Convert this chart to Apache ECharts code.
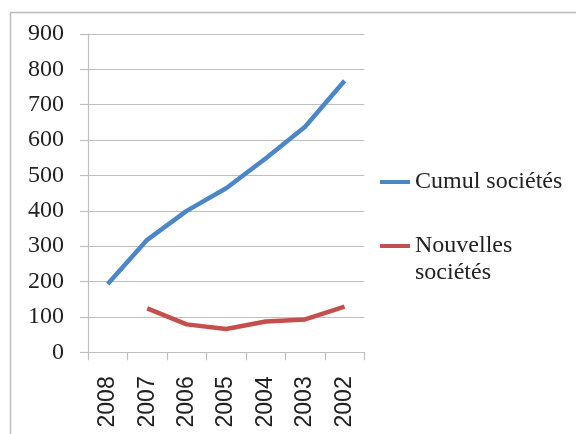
<!DOCTYPE html>
<html>
<head>
<meta charset="utf-8">
<script src="https://cdn.jsdelivr.net/npm/echarts@6/dist/echarts.min.js"></script>
<style>html,body{margin:0;padding:0;background:#fff}#c{width:576px;height:434px}</style>
</head>
<body>
<div id="c"></div>
<script>
const categories = ['2008', '2007', '2006', '2005', '2004', '2003', '2002'];
const cumulSocietes = [193, 318, 400, 464, 548, 638, 768];
const nouvellesSocietes = [null, 124, 79, 66, 87, 93, 129];
const yTicks = { min: 0, max: 900, interval: 100 };

const chart = echarts.init(document.getElementById('c'), null, { renderer: 'canvas' });
const serif = '"Liberation Serif", "Times New Roman", serif';
const sans = '"Liberation Sans", Arial, sans-serif';
chart.setOption({
  animation: false,
  backgroundColor: '#fff',
  graphic: [{
    type: 'rect', z: -1,
    shape: { x: 10.5, y: 12.5, width: 700, height: 600 },
    style: { fill: 'none', stroke: '#bdbdbd', lineWidth: 1.5 }
  }],
  grid: { left: 88, right: 211.7, top: 34, bottom: 81.7 },
  xAxis: {
    type: 'category',
    data: categories,
    boundaryGap: true,
    axisLine: { lineStyle: { color: '#bfbfbf', width: 1.2 } },
    axisTick: { show: true, length: 8, inside: false, lineStyle: { color: '#bfbfbf', width: 1.2 } },
    axisLabel: { rotate: 90, margin: 24, fontFamily: sans, fontSize: 23, color: '#222' },
    splitLine: { show: false }
  },
  yAxis: {
    type: 'value',
    min: yTicks.min, max: yTicks.max, interval: yTicks.interval,
    axisLine: { show: true, lineStyle: { color: '#bfbfbf', width: 1.2 } },
    axisTick: { show: true, length: 8, lineStyle: { color: '#bfbfbf', width: 1.2 } },
    axisLabel: { margin: 24, fontFamily: serif, fontSize: 24, color: '#222' },
    splitLine: { show: true, lineStyle: { color: '#bfbfbf', width: 1.2 } }
  },
  legend: [{
    orient: 'vertical', left: 380, top: 168.5, padding: 0,
    icon: 'rect', itemWidth: 30, itemHeight: 4,
    data: ['Cumul sociétés'],
    textStyle: { fontFamily: serif, fontSize: 24, color: '#222', lineHeight: 27 }
  }, {
    orient: 'vertical', left: 380, top: 205.5, padding: 0,
    icon: 'rect', itemWidth: 30, itemHeight: 4,
    data: ['Nouvelles sociétés'],
    formatter: function (n) { return ' \n' + n.replace(' ', '\n'); },
    textStyle: { fontFamily: serif, fontSize: 24, color: '#222', lineHeight: 27 }
  }],
  series: [{
    name: 'Cumul sociétés', type: 'line', data: cumulSocietes,
    symbol: 'none', smooth: false,
    lineStyle: { color: '#4a86c8', width: 4.5 }, itemStyle: { color: '#4a86c8' }
  }, {
    name: 'Nouvelles sociétés', type: 'line', data: nouvellesSocietes,
    symbol: 'none', smooth: false,
    lineStyle: { color: '#c4504d', width: 4.5 }, itemStyle: { color: '#c4504d' }
  }]
});
</script>
</body>
</html>
